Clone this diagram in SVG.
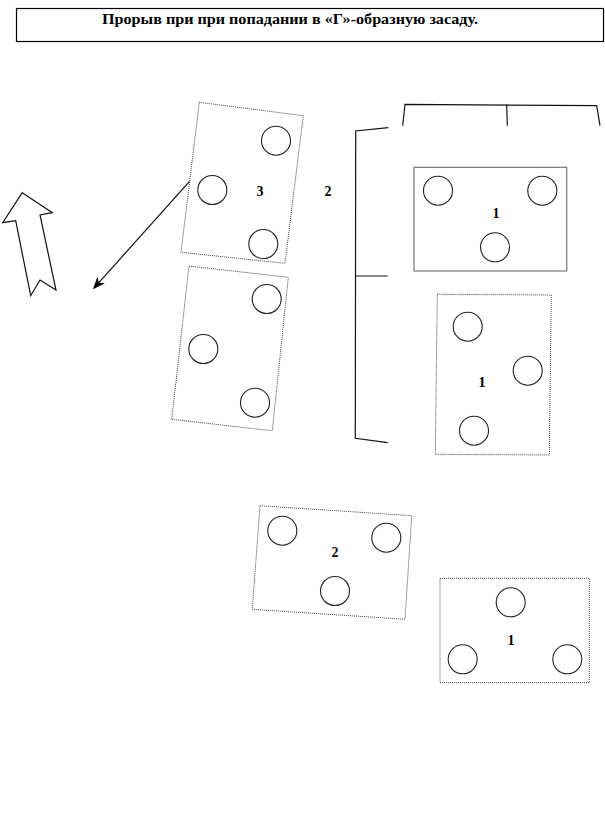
<svg xmlns="http://www.w3.org/2000/svg" width="605" height="833" viewBox="0 0 605 833">
<defs>
<style>
.dot{fill:none;stroke:#444;stroke-width:1;stroke-dasharray:1,1}
.solid{fill:none;stroke:#777;stroke-width:1.2}
.c{fill:none;stroke:#222;stroke-width:1.1}
.ln{fill:none;stroke:#111;stroke-width:1.2}
.lbl{font-family:"Liberation Serif",serif;font-weight:bold;font-size:14px;fill:#000;text-anchor:middle}
</style>
<marker id="ah" markerWidth="12" markerHeight="10" refX="10" refY="5" orient="auto" markerUnits="userSpaceOnUse">
<path d="M0,0 L12,5 L0,10 L3,5 Z" fill="#000"/>
</marker>
</defs>
<rect width="605" height="833" fill="#fff"/>
<g id="title">
<rect x="16.5" y="8.5" width="587" height="33" fill="none" stroke="#000" stroke-width="1.2"/>
<text x="290" y="24" font-family="Liberation Serif, serif" font-weight="bold" font-size="14" text-anchor="middle" textLength="376" lengthAdjust="spacingAndGlyphs">Прорыв при при попадании в «Г»-образную засаду.</text>
</g>
<g id="group3">
<polygon class="dot" points="199.3,102.3 303.3,115.7 285,263.3 181,252.3"/>
<circle class="c" cx="276" cy="140.7" r="14.5"/>
<circle class="c" cx="212.3" cy="190" r="14.5"/>
<circle class="c" cx="263.3" cy="244" r="14.5"/>
<text class="lbl" x="260" y="196">3</text>
</g>
<g id="label2top">
<text class="lbl" x="328" y="196">2</text>
</g>
<g id="group3b">
<polygon class="dot" points="189,266 288.3,277.3 272.3,430.7 171.7,419.3"/>
<circle class="c" cx="266.7" cy="299" r="14.5"/>
<circle class="c" cx="203.3" cy="349" r="14.5"/>
<circle class="c" cx="255" cy="402.7" r="14.5"/>
</g>
<g id="group1a">
<rect class="solid" x="414" y="167.3" width="152.7" height="103.7"/>
<circle class="c" cx="438" cy="190.7" r="14.5"/>
<circle class="c" cx="542.3" cy="190.7" r="14.5"/>
<circle class="c" cx="495" cy="247.3" r="14.5"/>
<text class="lbl" x="496" y="218">1</text>
</g>
<g id="group1b">
<polygon class="dot" points="437.3,294.3 551.3,295 549.3,455 435.3,454.3"/>
<circle class="c" cx="467.7" cy="326.7" r="14.5"/>
<circle class="c" cx="527.7" cy="370.7" r="14.5"/>
<circle class="c" cx="474" cy="430.7" r="14.5"/>
<text class="lbl" x="482" y="387">1</text>
</g>
<g id="group2">
<polygon class="dot" points="260,505.7 411.7,515.7 405,619.3 252.3,609.3"/>
<circle class="c" cx="282.3" cy="530.7" r="14.5"/>
<circle class="c" cx="386.3" cy="537.7" r="14.5"/>
<circle class="c" cx="335" cy="591" r="14.5"/>
<text class="lbl" x="335" y="557">2</text>
</g>
<g id="group1c">
<rect class="dot" x="440" y="578.3" width="149.3" height="104.4"/>
<circle class="c" cx="510.7" cy="602.3" r="14.5"/>
<circle class="c" cx="462.7" cy="659.3" r="14.5"/>
<circle class="c" cx="567.3" cy="659.3" r="14.5"/>
<text class="lbl" x="511" y="645">1</text>
</g>
<g id="bigarrow">
<polygon fill="#fff" stroke="#111" stroke-width="1.2" points="22.3,192.7 52.3,212.7 40,215 56,290 40,280 30.7,295.7 15.7,220.7 2.7,222.7"/>
</g>
<g id="connectors">
<line class="ln" x1="189.3" y1="181.7" x2="94.3" y2="287.7" marker-end="url(#ah)"/>
<polyline class="ln" points="388.3,127.7 355.7,131 355.3,438.3 387.7,442.7"/>
<line class="ln" x1="355.7" y1="276" x2="387.7" y2="276"/>
<polyline class="ln" points="402.7,125.7 405,104.3 596.7,105.7 600,125.7"/>
<line class="ln" x1="506.7" y1="104.3" x2="507.3" y2="125.7"/>
</g>
</svg>
